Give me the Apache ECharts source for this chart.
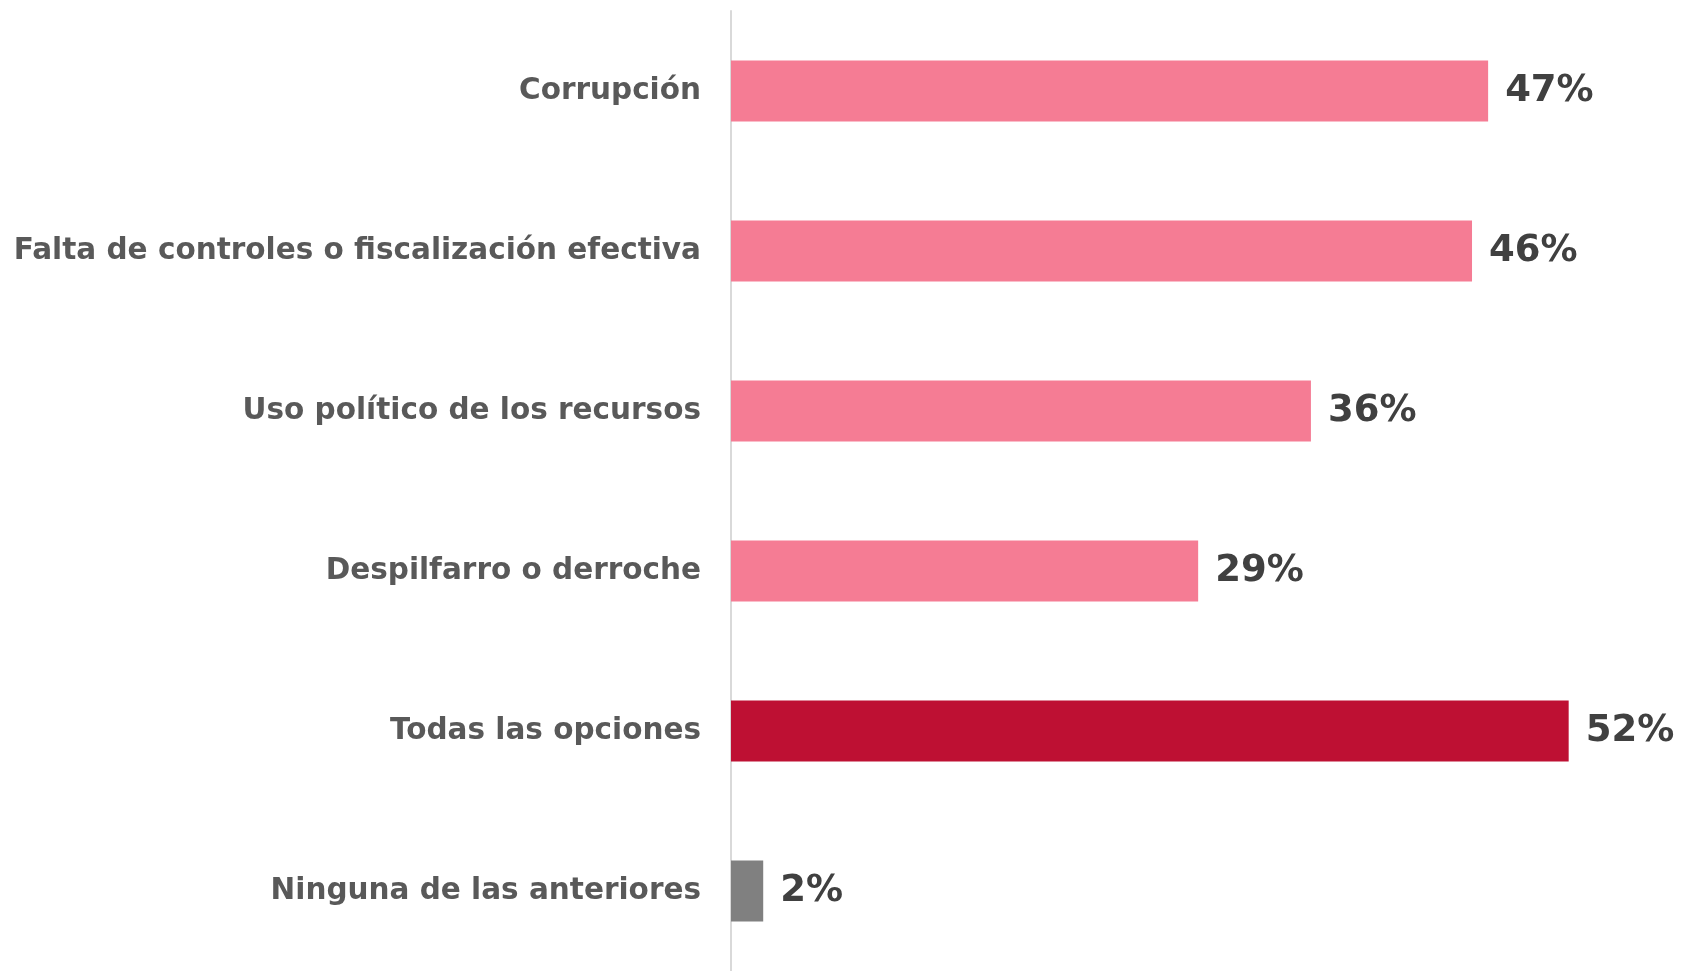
<!DOCTYPE html>
<html>
<head>
<meta charset="utf-8">
<script src="https://cdn.jsdelivr.net/npm/echarts@6/dist/echarts.min.js"></script>
<style>
  html, body { margin:0; padding:0; background:#fff; }
  #chart { width:1681px; height:971px; }
</style>
</head>
<body>
<div id="chart"></div>
<script>
var categories = ['Corrupción', 'Falta de controles o fiscalización efectiva', 'Uso político de los recursos', 'Despilfarro o derroche', 'Todas las opciones', 'Ninguna de las anteriores'];
var values = [47, 46, 36, 29, 52, 2];
var colors = ['#F57C94', '#F57C94', '#F57C94', '#F57C94', '#BE1033', '#808080'];

var data = [];
for (var i in values) {
    data.push({value: values[i], itemStyle: {color: colors[i]}});
}

var option = {
    animation: false,
    grid: {left: 731, right: 64, top: 11, height: 966},
    xAxis: {
        type: 'value', min: 0, max: 55,
        show: false
    },
    yAxis: {
        type: 'category',
        inverse: true,
        data: categories,
        axisTick: {show: false},
        axisLine: {lineStyle: {color: '#D9D9D9', width: 2}},
        axisLabel: {
            margin: 30,
            color: '#595959',
            fontFamily: 'DejaVu Sans',
            fontWeight: 'bold',
            fontSize: 29.5
        }
    },
    series: [{
        type: 'bar',
        barWidth: 61,
        data: data,
        label: {
            show: true,
            position: 'right',
            distance: 17,
            formatter: '{c}%',
            color: '#404040',
            fontFamily: 'DejaVu Sans',
            fontWeight: 'bold',
            fontSize: 37
        }
    }]
};
echarts.init(document.getElementById('chart')).setOption(option);
</script>
</body>
</html>
